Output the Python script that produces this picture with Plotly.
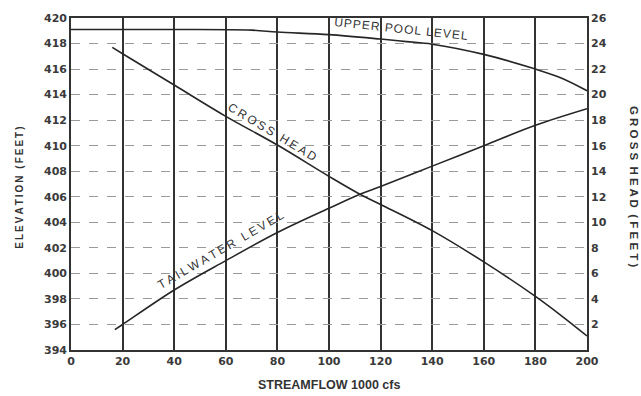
import plotly.graph_objects as go

# Data
upper_x = [0, 40, 70, 80, 100, 120, 130, 140, 160, 180, 190, 200]
upper_y = [419.1, 419.1, 419.05, 418.9, 418.7, 418.35, 418.15, 417.95, 417.15, 416.0, 415.3, 414.3]

tail_x = [17, 20, 40, 60, 80, 100, 112, 120, 140, 160, 180, 200]
tail_y = [395.6, 396.0, 398.7, 401.0, 403.2, 405.1, 406.2, 406.8, 408.4, 410.0, 411.6, 412.9]

gross_x = [16, 20, 40, 60, 80, 100, 112, 120, 140, 160, 180, 190, 200]
gross_y = [23.7, 23.2, 20.75, 18.3, 16.05, 13.6, 12.2, 11.4, 9.35, 6.9, 4.2, 2.7, 1.1]

x_ticks = [0, 20, 40, 60, 80, 100, 120, 140, 160, 180, 200]
left_ticks = list(range(394, 421, 2))
right_ticks = list(range(2, 27, 2))

ink = "#262626"
font_fam = "Liberation Sans, Arial, sans-serif"
tick_font = dict(family="DejaVu Sans, sans-serif", size=11, color="#3a3a3a", weight="bold")

fig = go.Figure()
fig.add_trace(go.Scatter(x=upper_x, y=upper_y, mode="lines", line=dict(color=ink, width=1.6, shape="spline"), showlegend=False))
fig.add_trace(go.Scatter(x=tail_x, y=tail_y, mode="lines", line=dict(color=ink, width=1.6, shape="spline"), showlegend=False))
fig.add_trace(go.Scatter(x=gross_x, y=gross_y, mode="lines", yaxis="y2", line=dict(color=ink, width=1.6, shape="spline"), showlegend=False))

fig.update_layout(
    width=641, height=396,
    margin=dict(l=71, r=54, t=18, b=46),
    paper_bgcolor="white", plot_bgcolor="white",
    font=dict(family=font_fam, color="#333", size=12),
    xaxis=dict(range=[0, 200], tickvals=x_ticks, ticks="", showgrid=True, gridcolor="#333", gridwidth=1.6,
               showline=True, linecolor="#333", linewidth=1.6, mirror=True, zeroline=False,
               tickfont=tick_font),
    yaxis=dict(range=[394, 420], tickvals=left_ticks, showgrid=True, gridcolor="#9a9a9a", gridwidth=1, griddash="dash",
               showline=True, linecolor="#333", linewidth=1.6, zeroline=False,
               tickfont=tick_font),
    yaxis2=dict(range=[0, 26], tickvals=right_ticks, overlaying="y", side="right", showgrid=False,
                showline=True, linecolor="#333", linewidth=1.6, zeroline=False,
                tickfont=tick_font),
)

ann_font = dict(family=font_fam, size=12, color="#333333")
hs = "\u200a"
ts = "\u2009"
fig.add_annotation(x=128, y=419.1, text=hs.join("UPPER POOL LEVEL"), textangle=6, showarrow=False, font=ann_font)
fig.add_annotation(x=78, y=411.1, text=ts.join("CROSS HEAD"), textangle=31, showarrow=False, font=ann_font)
fig.add_annotation(x=58, y=401.85, text=ts.join("TAILWATER LEVEL"), textangle=-30, showarrow=False, font=ann_font)

fig.add_annotation(xref="paper", yref="paper", x=-0.1, y=0.49, xanchor="center", yanchor="middle",
                   text=ts.join("ELEVATION (FEET)"), textangle=-90, showarrow=False,
                   font=dict(family=font_fam, size=10, color="#333", weight="bold"))
fig.add_annotation(xref="paper", yref="paper", x=1.09, y=0.49, xanchor="center", yanchor="middle",
                   text="G R O S S  H E A D  ( F E E T )", textangle=90, showarrow=False,
                   font=dict(family=font_fam, size=11.5, color="#333", weight="bold"))
fig.add_annotation(xref="paper", yref="paper", x=0.5, y=-0.105, xanchor="center", yanchor="middle",
                   text="STREAMFLOW 1000 cfs", showarrow=False,
                   font=dict(family=font_fam, size=12.5, color="#333", weight="bold"))

fig.write_html("out.html")
